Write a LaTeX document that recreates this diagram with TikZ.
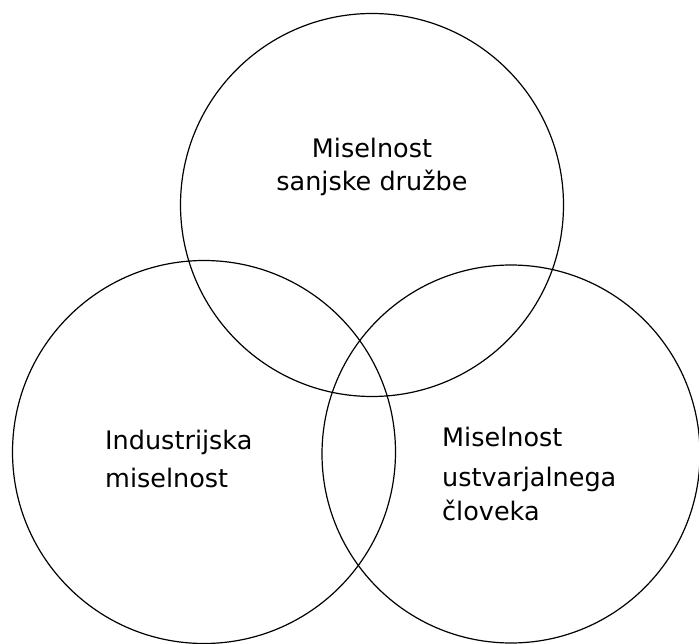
\documentclass[tikz,border=0pt]{standalone}
\usepackage{fontspec}
\setmainfont{DejaVu Sans}
\usepackage{tikz}
\usetikzlibrary{positioning}

\begin{document}
\begin{tikzpicture}[x=1pt,y=-1pt,
venn/.style={draw,circle,line width=1.2pt,inner sep=0pt,minimum size=383pt},
lab/.style={inner sep=0pt,font=\fontsize{25.5}{30.6}\selectfont}]
\useasboundingbox (0,0) rectangle (699,644);
\node[venn] (sanje) at (372,205) {};
\node[venn] (industrija) at (204,452) {};
\node[venn,minimum size=378pt] (clovek) at (511,454) {};
\node[lab,align=center,anchor=base] (sanjelab) at (372,191) {Miselnost\\[3pt]sanjske družbe};
\node[lab,align=left,anchor=base west] (industrijalab) at (105,487) {Industrijska\\[7pt]miselnost};
\node[lab,align=left,anchor=base west] (cloveklab) at (442,520) {Miselnost\\[9pt]ustvarjalnega\\[3pt]človeka};
\end{tikzpicture}
\end{document}
